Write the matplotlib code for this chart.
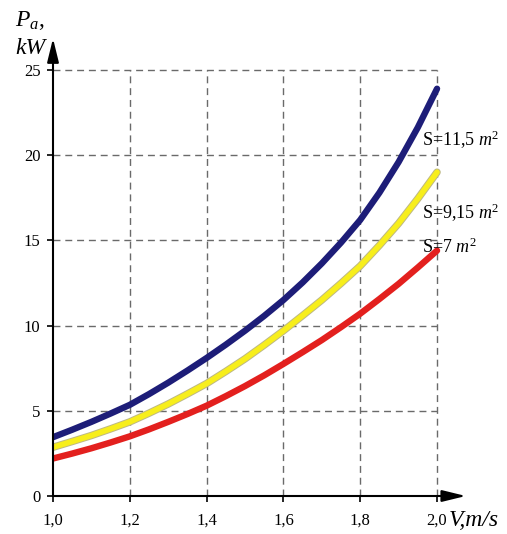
import matplotlib
matplotlib.use('Agg')
import matplotlib.pyplot as plt

plt.rcParams['font.family'] = ['Liberation Serif', 'DejaVu Serif']
plt.rcParams['mathtext.fontset'] = 'custom'
plt.rcParams['mathtext.rm'] = 'Liberation Serif'
plt.rcParams['mathtext.it'] = 'Liberation Serif:italic'

# Speed, m/s
v = [1.0, 1.05, 1.1, 1.15, 1.2, 1.25, 1.3, 1.35, 1.4, 1.45, 1.5,
     1.55, 1.6, 1.65, 1.7, 1.75, 1.8, 1.85, 1.9, 1.95, 2.0]
# Power, kW, for each sail area
p_s115 = [3.45, 3.89, 4.35, 4.84, 5.35, 5.98, 6.65, 7.36, 8.1, 8.88, 9.7,
          10.57, 11.5, 12.53, 13.65, 14.87, 16.2, 17.8, 19.6, 21.63, 23.9]
p_s915 = [2.86, 3.2, 3.55, 3.94, 4.35, 4.86, 5.4, 5.99, 6.6, 7.31, 8.05,
          8.86, 9.7, 10.59, 11.5, 12.48, 13.5, 14.71, 16.0, 17.45, 19.0]
p_s7 = [2.2, 2.49, 2.8, 3.14, 3.5, 3.91, 4.35, 4.81, 5.3, 5.86, 6.45,
        7.08, 7.75, 8.44, 9.15, 9.91, 10.7, 11.56, 12.45, 13.41, 14.4]

x_ticks = [1.0, 1.2, 1.4, 1.6, 1.8, 2.0]
x_labels = ['1,0', '1,2', '1,4', '1,6', '1,8', '2,0']
y_ticks = [0, 5, 10, 15, 20, 25]
y_labels = ['0', '5', '10', '15', '20', '25']

fig = plt.figure(figsize=(5.07, 5.34), dpi=100)
ax = fig.add_axes([53 / 507, 38 / 534, 418.6 / 507, 458.4 / 534])
ax.set_xlim(1.0, 2.09)
ax.set_ylim(0, 26.9)
for s in ax.spines.values():
    s.set_visible(False)

# dashed grid, boxed to 1.0..2.0 x 0..25
dash = (0, (5, 3.5))
ax.vlines(x_ticks[1:], 0, 25, colors='#6a6a6a', linestyles=dash, lw=1.0, zorder=1)
ax.hlines(y_ticks[1:], 1.0, 2.0, colors='#6a6a6a', linestyles=dash, lw=1.0, zorder=1)

# curves
ax.plot(v, p_s115, color='#1d1d78', lw=4.6, solid_capstyle='round', zorder=3)
ax.plot(v, p_s915, color='#bdb884', lw=5.4, solid_capstyle='round', zorder=3)
ax.plot(v, p_s915, color='#f7ee1c', lw=4.0, solid_capstyle='round', zorder=3)
ax.plot(v, p_s7, color='#e3201e', lw=4.6, solid_capstyle='round', zorder=3)

# axes with arrowheads
arrow = dict(arrowstyle='-|>,head_length=0.9,head_width=0.22', color='black',
             lw=1.5, shrinkA=0, shrinkB=0, mutation_scale=16)
ax.annotate('', xy=(2.075, 0), xytext=(1.0, 0), arrowprops=arrow,
            annotation_clip=False, zorder=4)
ax.annotate('', xy=(1.0, 26.85), xytext=(1.0, 0), arrowprops=arrow,
            annotation_clip=False, zorder=4)

ax.set_xticks(x_ticks)
ax.set_xticklabels(x_labels, fontsize=12)
ax.set_yticks(y_ticks)
ax.set_yticklabels(y_labels, fontsize=12)
ax.tick_params(axis='x', direction='out', length=4, width=1.2, pad=8)
ax.tick_params(axis='y', direction='out', length=4, width=1.2, pad=5)
ax.get_yticklabels()[0].set_y(0.45)

# curve labels
lbl = dict(fontsize=13, va='center', ha='left', zorder=5)
ax.text(1.961, 20.9, r'S=11,5 $m^2$', **lbl)
ax.text(1.961, 16.6, r'S=9,15 $m^2$', **lbl)
ax.text(1.961, 14.6, r'S=7 $m^2$', **lbl)

# axis titles
fig.text(449 / 507, 1 - 521 / 534, 'V,m/s', fontsize=17, style='italic',
         ha='left', va='center')
fig.text(15 / 507, 1 - 20 / 534, r'$P_a$,', fontsize=17, ha='left', va='center')
fig.text(15 / 507, 1 - 48 / 534, 'kW', fontsize=17, style='italic',
         ha='left', va='center')

fig.savefig('out.png', dpi=100)
